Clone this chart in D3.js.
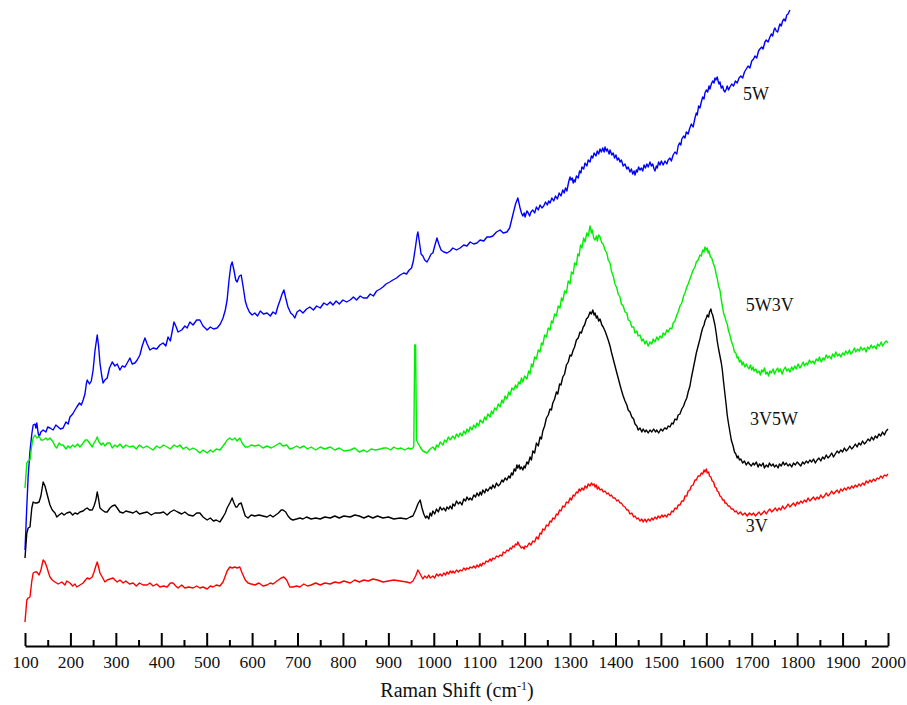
<!DOCTYPE html>
<html>
<head>
<meta charset="utf-8">
<script src="https://cdn.jsdelivr.net/npm/d3@7"></script>
<style>
  html, body { margin: 0; padding: 0; background: #fff; }
  svg { display: block; }
  text { font-family: "Liberation Serif", "Times New Roman", serif; fill: #111; }
</style>
</head>
<body>
<svg id="chart" width="907" height="705"></svg>
<script>
// ---- data (Raman shift in cm-1, intensity in arbitrary units, offset per spectrum) ----
const xTicks = [100,200,300,400,500,600,700,800,900,1000,1100,1200,1300,1400,1500,1600,1700,1800,1900,2000];
const xMinorTicks = [150,250,350,450,550,650,750,850,950,1050,1150,1250,1350,1450,1550,1650,1750,1850,1950];
const seriesNames = ["5W", "5W3V", "3V5W", "3V"];
const seriesColors = ["#0000ff", "#00ee00", "#000000", "#ff0000"];

const spec5W = [
[100,96],[104,140],[107,170],[111,195],[115,212],[118,221],[122,222],[124,218],[126,223],[129,213],[131,209],[135,214],[140,216],[146,214],[150,219],[155,218],[162,216],[168,221],[173,219],[178,217],[184,218],[190,224],[195,222],[199,229],[205,232],[210,236],[214,239],[220,243],[224,241],[228,246],[232,252],[235,262],[237,266],[242,262],[246,265],[250,276],[254,295],[259,311],[262,300],[265,283],[269,270],[272,263],[276,266],[281,268],[286,278],[292,284],[298,280],[303,282],[309,276],[314,280],[320,279],[325,283],[331,288],[336,282],[342,283],[347,286],[353,291],[358,300],[364,308],[369,302],[375,296],[382,298],[390,297],[397,301],[404,303],[410,300],[415,309],[420,305],[428,324],[432,320],[437,314],[445,316],[452,320],[457,318],[463,324],[470,321],[478,326],[485,326],[492,320],[501,316],[508,319],[515,317],[523,318],[530,322],[536,328],[541,336],[545,346],[549,365],[553,380],[556,384],[560,376],[564,366],[567,364],[572,370],[576,371],[580,360],[585,345],[589,339],[594,334],[600,331],[606,333],[612,330],[618,335],[625,332],[633,333],[640,330],[646,334],[652,332],[657,340],[661,345],[666,352],[670,356],[674,348],[679,339],[685,333],[690,331],[694,328],[699,334],[705,336],[712,333],[720,337],[727,339],[735,336],[742,340],[750,338],[758,343],[765,341],[772,344],[778,341],[785,345],[792,342],[800,346],[808,344],[816,346],[823,349],[830,346],[838,350],[845,348],[853,348],[860,352],[867,350],[874,355],[882,357],[888,359],[895,362],[903,364],[910,366],[918,368],[926,371],[934,373],[940,372],[946,376],[951,378],[955,385],[960,400],[963,410],[965,414],[968,405],[972,392],[976,390],[980,386],[985,384],[990,388],[994,392],[998,393],[1002,400],[1007,408],[1011,402],[1016,396],[1022,394],[1029,393],[1036,395],[1042,398],[1050,396],[1058,398],[1066,401],[1073,400],[1080,404],[1088,402],[1095,403],[1102,406],[1110,405],[1117,409],[1124,409],[1130,410],[1138,414],[1146,416],[1153,413],[1161,414],[1167,418],[1174,431],[1180,442],[1185,448],
[1190,438],[1193,433],[1196,430],[1199,433],[1201,429],[1205,435],[1208,433],[1211,430],[1214,434],[1218,436],[1222,433],[1226,439],[1230,436],[1234,441],[1238,438],[1242,440],[1246,444],[1250,441],[1253,445],[1256,443],[1260,448],[1264,445],[1268,450],[1272,447],[1276,453],[1280,450],[1284,456],[1287,453],[1290,458],[1293,455],[1296,462],[1298,466],[1300,469],[1302,466],[1305,468],[1307,463],[1309,466],[1311,464],[1314,470],[1318,468],[1321,475],[1324,473],[1326,479],[1330,477],[1333,483],[1337,480],[1340,486],[1344,484],[1347,490],[1350,488],[1353,493],[1357,490],[1360,495],[1363,492],[1366,497],[1369,494],[1372,498],[1375,494],[1377,499],[1380,495],[1382,497],[1386,492],[1388,496],[1392,491],[1395,493],[1398,488],[1401,491],[1404,486],[1407,488],[1410,484],[1413,486],[1417,480],[1421,482],[1425,477],[1428,479],[1432,474],[1435,477],[1438,472],[1441,475],[1443,471],[1446,476],[1448,474],[1451,479],[1454,476],[1457,478],[1460,475],[1463,481],[1466,478],[1469,482],[1472,479],[1476,484],[1479,480],[1482,482],[1485,477],[1487,475],[1490,480],[1492,478],[1495,484],[1498,481],[1501,485],
[1505,481],[1509,485],[1513,482],[1516,486],[1520,488],[1523,485],[1527,491],[1531,494],[1535,492],[1538,500],[1541,503],[1544,501],[1546,507],[1550,510],[1553,508],[1556,514],[1560,512],[1563,517],[1567,522],[1571,519],[1575,528],[1578,533],[1580,531],[1583,540],[1586,538],[1589,544],[1592,549],[1595,547],[1597,553],[1600,556],[1603,554],[1606,560],[1608,557],[1611,562],[1614,565],[1617,563],[1619,568],[1621,566],[1624,569],[1626,565],[1628,562],[1630,564],[1633,558],[1636,560],[1638,556],[1641,554],[1644,557],[1646,560],[1649,556],[1652,559],[1656,562],[1660,560],[1664,565],[1668,563],[1672,568],[1676,570],[1680,568],[1684,574],[1688,577],[1692,580],[1696,578],[1700,585],[1704,587],[1707,590],[1711,588],[1715,595],[1718,597],[1722,599],[1725,597],[1729,604],[1732,606],[1736,604],[1740,609],[1743,612],[1746,610],[1749,616],[1751,618],[1754,615],[1757,614],[1760,619],[1762,622],[1765,620],[1768,625],[1771,627],[1774,625],[1777,631],[1780,632],[1782,634],[1784,636]
];

const spec5W3V = [
[100,158],[104,183],[107,185],[111,186],[115,201],[118,208],[122,211],[126,208],[131,210],[135,206],[140,206],[146,208],[150,206],[155,208],[162,204],[166,200],[170,198],[175,203],[180,201],[184,201],[190,197],[195,200],[199,198],[205,201],[210,199],[216,202],[221,199],[228,203],[233,206],[237,206],[242,203],[248,199],[252,203],[256,206],[259,209],[263,204],[268,201],[272,203],[276,200],[281,203],[287,203],[292,198],[298,201],[303,199],[309,202],[316,198],[322,201],[330,199],[338,200],[345,197],[352,201],[360,198],[368,200],[375,198],[382,196],[390,200],[397,198],[405,201],[413,199],[420,197],[428,201],[435,199],[441,201],[448,197],[455,199],[462,196],[470,198],[478,196],[485,193],[492,196],[501,193],[508,196],[514,194],[521,197],[529,196],[536,200],[541,203],[545,206],[551,208],[556,206],[562,208],[567,205],[573,208],[578,203],[585,199],[591,199],[598,201],[606,200],[615,201],[624,198],[633,200],[642,198],[650,200],[661,203],[668,200],[676,201],[683,197],[690,198],[698,200],[705,198],[714,200],[722,197],[730,199],[740,196],[750,199],[760,197],[772,199],[782,196],[792,198],[802,195],[816,196],[826,198],[836,194],[846,196],[853,194],[862,197],[872,196],[882,197],[890,198],[897,198],[905,196],[912,199],[920,197],[928,198],[936,196],[944,198],[950,197],[954,198],[956,200],[958,301],[960,301],[962,206],
[965,203],[970,199],[976,195],[985,193],[992,197],[998,199],[1003,196],[1006,201],[1010,199],[1014,204],[1020,201],[1024,206],[1028,204],[1032,209],[1036,206],[1042,210],[1046,207],[1050,212],[1054,209],[1058,213],[1062,210],[1066,215],[1070,212],[1073,217],[1077,214],[1080,219],[1084,216],[1088,221],[1092,218],[1095,223],[1099,220],[1102,226],[1108,223],[1112,229],[1115,226],[1119,232],[1124,229],[1127,235],[1130,232],[1134,238],[1138,236],[1142,242],[1146,239],[1150,246],[1153,243],[1157,250],[1161,247],[1165,254],[1168,251],[1172,258],[1176,256],[1180,261],[1183,258],[1187,264],[1190,262],[1193,268],[1196,264],[1200,270],[1205,267],[1209,275],[1212,272],[1215,282],[1218,279],[1222,289],[1226,287],[1230,296],[1234,294],[1237,303],[1240,301],[1244,311],[1248,309],[1252,318],[1256,316],[1259,325],[1262,323],[1266,332],[1270,330],[1274,340],[1278,338],[1281,348],[1284,345],[1288,355],[1292,353],[1296,365],[1300,362],[1303,374],[1307,372],[1310,383],[1314,381],[1317,392],[1320,390],[1323,401],[1326,398],[1330,408],[1333,404],[1337,413],[1340,410],[1344,420],[1347,413],[1349,416],[1352,408],[1355,406],[1358,410],[1360,405],[1363,411],[1366,409],[1370,403],
[1373,402],[1377,396],[1381,393],[1384,386],[1388,383],[1391,375],[1395,370],[1399,362],[1403,358],[1406,352],[1410,349],[1413,342],[1417,340],[1421,334],[1425,333],[1428,326],[1432,325],[1436,319],[1440,319],[1443,313],[1447,315],[1450,310],[1454,311],[1458,305],[1461,307],[1465,302],[1468,305],[1472,300],[1476,304],[1480,302],[1483,307],[1487,304],[1491,309],[1494,306],[1498,310],[1502,308],[1505,313],[1509,311],[1513,316],[1516,314],[1520,318],[1524,317],[1527,323],[1531,325],[1535,331],[1538,334],[1542,340],[1546,343],[1550,350],[1553,353],[1557,359],[1560,362],[1564,367],[1567,371],[1571,376],[1575,379],[1578,384],[1582,386],[1586,391],[1589,390],[1592,396],[1595,394],[1597,399],[1600,396],[1602,398],[1604,393],[1606,395],[1609,389],[1612,388],[1615,383],[1619,378],[1622,371],[1624,368],[1627,360],[1630,356],[1633,346],[1635,341],[1638,333],[1641,329],[1644,324],[1646,322],[1649,315],[1652,311],[1655,305],[1659,300],[1662,294],[1665,293],[1668,288],[1670,289],[1673,284],
[1676,286],[1679,281],[1681,284],[1685,279],[1688,282],[1690,280],[1694,277],[1697,281],[1700,276],[1703,279],[1705,275],[1709,277],[1712,273],[1716,275],[1719,271],[1722,276],[1725,274],[1728,278],[1731,272],[1734,274],[1737,270],[1740,275],[1743,273],[1747,277],[1750,272],[1753,275],[1757,278],[1760,274],[1763,277],[1767,272],[1770,276],[1774,279],[1777,275],[1781,277],[1784,274],[1788,279],[1791,276],[1795,280],[1798,277],[1802,282],[1806,278],[1809,280],[1813,284],[1816,280],[1820,283],[1823,281],[1827,286],[1831,283],[1835,285],[1838,282],[1842,287],[1846,285],[1849,289],[1853,284],[1857,288],[1860,286],[1864,291],[1867,288],[1871,290],[1875,287],[1878,292],[1882,289],[1885,294],[1889,290],[1893,292],[1896,289],[1900,293],[1904,291],[1907,295],[1911,292],[1915,296],[1918,292],[1922,294],[1926,298],[1929,294],[1933,297],[1937,295],[1940,299],[1944,296],[1948,298],[1952,294],[1955,299],[1959,297],[1963,301],[1966,298],[1970,300],[1974,297],[1977,302],[1981,300],[1985,304],[1988,300],[1992,303],[1996,305],[2000,303]
];

const spec3V5W = [
[100,88],[104,113],[107,118],[111,119],[115,138],[118,144],[122,143],[126,143],[131,144],[135,150],[140,164],[144,160],[148,153],[152,146],[155,141],[160,136],[166,133],[170,129],[175,131],[181,133],[186,131],[192,133],[199,134],[205,131],[210,133],[216,132],[221,134],[228,135],[233,137],[237,138],[242,136],[248,136],[252,140],[256,146],[259,154],[262,147],[265,138],[270,136],[276,134],[281,134],[287,138],[292,140],[298,141],[303,138],[309,134],[316,133],[322,135],[330,134],[338,133],[345,135],[352,132],[360,133],[369,134],[378,131],[386,133],[397,133],[405,134],[413,131],[420,134],[428,136],[436,134],[445,132],[452,134],[460,131],[470,130],[478,133],[485,133],[492,129],[501,126],[508,128],[515,125],[521,126],[529,124],[536,129],[541,133],[545,138],[551,143],[556,148],[560,143],[564,139],[567,139],[571,142],[576,143],[580,137],[585,130],[591,128],[598,131],[606,130],[615,131],[624,130],[633,129],[640,131],[646,129],[652,131],[658,133],[664,136],[668,136],[674,134],[679,130],[685,127],[690,126],[698,127],[705,128],[712,127],[720,129],[730,127],[740,128],[750,127],[760,129],[772,128],[782,130],[792,128],[802,130],[816,129],[826,131],[836,130],[846,128],[856,130],[866,128],[876,130],[888,128],[900,129],[912,127],[926,128],[940,127],[948,129],[954,130],[960,136],[965,142],[970,146],[974,138],
[978,132],[982,128],[985,130],[989,127],[992,133],[995,130],[998,135],[1002,132],[1006,137],[1010,134],[1014,139],[1018,136],[1022,138],[1026,135],[1029,139],[1033,137],[1036,140],[1040,137],[1042,142],[1046,140],[1050,145],[1054,142],[1058,144],[1062,141],[1066,147],[1070,145],[1073,149],[1077,146],[1080,148],[1084,146],[1088,151],[1092,149],[1095,153],[1099,150],[1102,154],[1105,151],[1108,156],[1112,153],[1115,157],[1119,155],[1124,159],[1127,157],[1130,161],[1134,158],[1138,163],[1142,160],[1146,162],[1150,166],[1153,164],[1157,168],[1161,166],[1165,170],[1168,168],[1171,173],[1174,171],[1177,177],[1180,175],[1183,181],[1185,178],[1188,181],[1190,177],[1193,179],[1196,176],[1199,180],[1201,178],[1205,184],[1208,182],[1212,189],[1215,186],[1218,195],[1222,193],[1226,203],[1230,200],[1234,209],[1237,207],[1240,215],[1244,220],[1248,228],[1252,231],[1256,237],[1259,236],[1262,243],[1266,247],[1270,254],[1273,252],[1277,262],[1280,261],[1284,269],[1288,272],[1292,281],[1296,284],[1300,291],[1303,290],[1307,296],[1310,299],[1314,306],[1318,308],[1322,314],[1325,313],[1329,319],[1332,321],[1336,327],[1340,329],[1344,334],[1347,332],[1350,336],[1353,331],[1355,333],[1358,328],[1360,330],[1363,325],[1366,327],[1370,321],[1373,319],[1377,315],[1381,310],[1384,306],[1388,300],[1391,294],[1395,287],[1399,280],[1403,273],[1406,268],[1410,261],[1413,256],[1417,250],[1421,245],[1425,241],[1428,236],[1432,234],[1436,229],[1440,227],[1443,222],[1447,220],[1450,216],[1454,218],[1458,214],[1461,217],[1465,214],[1468,216],[1472,213],[1476,216],[1480,214],[1484,217],[1488,214],[1491,216],[1495,213],[1500,217],[1504,215],[1508,218],[1513,217],[1516,220],[1520,219],[1524,223],[1527,222],[1531,227],[1535,226],[1538,231],[1542,232],[1546,237],[1550,240],[1553,244],[1557,248],[1560,254],[1564,260],[1567,268],[1571,277],[1575,286],[1578,293],[1582,300],[1586,307],[1589,313],[1592,318],[1595,321],[1597,325],[1600,328],[1602,331],[1605,329],[1607,334],[1610,337],[1612,333],[1614,331],[1616,327],[1619,321],[1622,312],[1624,305],[1627,297],[1630,290],[1633,283],[1635,277],[1638,264],[1641,252],[1644,240],[1646,231],[1649,222],[1652,214],[1655,206],[1659,200],[1662,194],[1665,192],[1668,188],[1670,190],[1673,186],[1676,187],
[1680,183],[1684,185],[1688,181],[1692,184],[1695,182],[1699,180],[1703,183],[1706,181],[1710,184],[1714,179],[1717,182],[1721,180],[1725,183],[1728,178],[1732,181],[1736,179],[1739,183],[1743,180],[1747,182],[1750,179],[1754,181],[1758,178],[1761,182],[1765,180],[1769,184],[1772,181],[1776,183],[1780,180],[1784,182],[1788,179],[1792,183],[1796,181],[1800,184],[1804,182],[1808,180],[1812,184],[1816,182],[1820,185],[1824,183],[1828,186],[1832,184],[1836,187],[1840,183],[1844,186],[1848,188],[1852,185],[1856,189],[1860,187],[1864,191],[1868,188],[1872,190],[1876,193],[1880,189],[1884,192],[1888,195],[1892,193],[1896,196],[1900,194],[1904,198],[1908,195],[1912,197],[1916,200],[1920,197],[1924,199],[1928,202],[1932,199],[1936,203],[1940,201],[1944,205],[1948,202],[1952,204],[1956,207],[1960,205],[1964,209],[1968,206],[1972,210],[1976,208],[1980,212],[1984,210],[1988,214],[1992,211],[1996,215],[2000,217]
];

const spec3V = [
[100,24],[104,46],[107,48],[111,49],[115,65],[118,73],[122,74],[126,74],[131,71],[135,76],[140,86],[144,84],[148,79],[152,73],[155,69],[160,66],[166,64],[173,62],[181,64],[188,61],[192,65],[199,63],[205,60],[210,62],[214,59],[221,61],[228,63],[233,66],[237,68],[242,67],[248,69],[252,74],[256,80],[259,84],[262,79],[265,73],[270,69],[276,64],[281,66],[287,67],[294,68],[298,66],[303,64],[309,66],[316,63],[322,65],[330,62],[338,63],[345,60],[352,63],[360,61],[369,61],[375,63],[382,60],[390,62],[397,59],[405,60],[413,59],[420,63],[426,63],[432,60],[437,58],[445,61],[452,58],[460,59],[470,58],[478,60],[485,58],[492,59],[501,57],[508,60],[514,59],[521,61],[529,60],[536,64],[541,70],[545,75],[551,79],[556,78],[562,79],[567,78],[573,79],[578,73],[585,66],[591,63],[598,62],[606,61],[615,63],[624,60],[633,61],[640,63],[646,62],[652,64],[658,66],[664,68],[670,69],[676,66],[683,59],[690,59],[698,60],[705,59],[714,62],[722,60],[730,61],[740,63],[750,61],[760,63],[772,62],[782,64],[792,63],[802,65],[816,63],[826,66],[836,64],[846,66],[856,65],[866,67],[876,66],[888,64],[900,65],[912,66],[926,65],[940,64],[948,63],[954,65],
[960,70],[965,76],[970,72],[976,67],[980,70],[985,68],[989,71],[992,68],[998,70],[1002,68],[1006,72],[1010,70],[1014,72],[1018,70],[1022,73],[1026,71],[1029,74],[1033,72],[1036,75],[1040,73],[1042,75],[1046,73],[1050,76],[1054,74],[1058,76],[1062,75],[1066,78],[1070,76],[1073,78],[1077,77],[1080,79],[1084,78],[1088,80],[1092,78],[1095,81],[1099,79],[1102,82],[1105,80],[1108,83],[1112,82],[1115,85],[1119,84],[1124,87],[1127,85],[1130,88],[1134,87],[1138,90],[1142,89],[1146,91],[1150,90],[1153,94],[1157,93],[1161,96],[1165,95],[1168,98],[1171,97],[1174,100],[1177,99],[1180,102],[1183,101],[1185,104],[1188,101],
[1190,100],[1193,98],[1196,99],[1199,97],[1201,100],[1205,99],[1210,103],[1214,101],[1218,105],[1222,104],[1226,109],[1230,107],[1234,113],[1237,112],[1240,117],[1244,116],[1248,121],[1252,120],[1256,125],[1259,124],[1262,128],[1266,127],[1270,132],[1273,131],[1277,136],[1280,135],[1284,140],[1288,139],[1292,144],[1296,143],[1300,148],[1303,146],[1307,151],[1310,150],[1314,154],[1317,153],[1320,157],[1323,155],[1326,158],[1330,156],[1333,160],[1337,158],[1340,162],[1344,160],[1347,163],[1350,161],[1353,162],[1355,159],[1358,161],[1360,157],[1363,159],[1366,156],[1370,157],[1373,154],[1377,155],[1381,152],[1384,153],[1388,150],[1391,151],[1395,148],[1399,148],[1403,145],[1406,146],[1410,143],[1413,143],[1417,140],[1421,139],[1425,136],[1428,136],[1432,132],[1436,133],[1440,129],[1443,130],[1447,127],[1450,128],[1454,125],[1458,127],[1461,124],[1465,127],[1468,124],[1472,127],[1476,125],[1480,128],[1483,126],[1487,129],[1491,127],[1494,130],[1498,128],[1502,131],[1505,129],[1509,131],[1513,129],[1516,132],[1520,131],[1524,135],[1527,134],[1531,138],[1535,137],[1538,141],[1542,141],[1546,145],[1550,145],[1553,150],[1557,150],[1560,155],[1564,156],[1567,160],[1571,161],[1575,166],[1578,166],[1582,170],[1586,170],[1589,173],[1592,172],[1595,176],[1597,174],[1600,177],[1602,173],[1605,174],[1607,170],[1610,169],[1613,165],[1616,164],[1619,159],[1622,158],[1624,155],[1627,154],[1630,150],[1633,149],[1636,146],[1639,146],[1641,143],[1644,143],[1648,140],[1651,140],[1655,137],[1659,137],[1663,134],[1666,135],[1670,132],[1675,134],[1680,131],[1685,133],[1690,130],[1695,133],
[1700,131],[1704,133],[1708,130],[1712,132],[1716,134],[1720,131],[1724,133],[1728,135],[1732,132],[1736,135],[1740,137],[1744,134],[1748,136],[1752,138],[1756,135],[1760,138],[1764,136],[1768,140],[1772,137],[1776,139],[1780,142],[1784,139],[1788,141],[1792,143],[1796,140],[1800,144],[1804,142],[1808,145],[1812,143],[1816,146],[1820,144],[1824,148],[1828,145],[1832,147],[1836,149],[1840,146],[1844,149],[1848,147],[1852,151],[1856,148],[1860,150],[1864,153],[1868,150],[1872,152],[1876,155],[1880,152],[1884,154],[1888,156],[1892,153],[1896,157],[1900,155],[1904,158],[1908,156],[1912,159],[1916,157],[1920,160],[1924,158],[1928,161],[1932,159],[1936,162],[1940,160],[1944,163],[1948,161],[1952,165],[1956,163],[1960,166],[1964,164],[1968,167],[1972,165],[1976,168],[1980,167],[1984,170],[1988,168],[1992,171],[1996,170],[2000,172]
];

// label anchor positions in data units (x in cm-1, y in intensity units)
const labelX = [1681, 1687, 1696, 1687];
const labelY = [546, 335, 221, 114];

const allSeries = [spec5W, spec5W3V, spec3V5W, spec3V];

// ---- drawing ----
const svg = d3.select("#chart");
const axisY = 646;
const x = d3.scaleLinear().domain([100, 2000]).range([25, 888]);
const y = d3.scaleLinear().domain([0, 646]).range([axisY, 0]);

const line = d3.line().x(d => x(d[0])).y(d => y(d[1]));

allSeries.forEach((s, i) => {
  svg.append("path")
    .datum(s)
    .attr("d", line)
    .attr("fill", "none")
    .attr("stroke", seriesColors[i])
    .attr("stroke-width", 1.4)
    .attr("stroke-linejoin", "round");
});

seriesNames.forEach((n, i) => {
  svg.append("text")
    .attr("x", x(labelX[i]))
    .attr("y", y(labelY[i]))
    .attr("font-size", 18)
    .text(n);
});

// minor ticks
const minorAxis = d3.axisBottom(x).tickValues(xMinorTicks).tickSize(-6).tickFormat("");
const gMinor = svg.append("g").attr("transform", `translate(0,${axisY})`).call(minorAxis);
gMinor.select(".domain").remove();
gMinor.selectAll(".tick line").attr("stroke", "#000").attr("stroke-width", 2);

// major axis
const majorAxis = d3.axisBottom(x).tickValues(xTicks).tickSizeInner(-13).tickSizeOuter(0)
  .tickPadding(10).tickFormat(d3.format("d"));
const gMajor = svg.append("g").attr("transform", `translate(0,${axisY})`).call(majorAxis);
gMajor.attr("font-family", "'Liberation Serif', 'Times New Roman', serif");
gMajor.select(".domain").attr("stroke", "#000").attr("stroke-width", 2);
gMajor.selectAll(".tick line").attr("stroke", "#000").attr("stroke-width", 2);
gMajor.selectAll(".tick text")
  .attr("font-size", 17.5)
  .attr("fill", "#111");

// axis title
const title = svg.append("text")
  .attr("x", 457)
  .attr("y", 697)
  .attr("text-anchor", "middle")
  .attr("font-size", 20);
title.append("tspan").text("Raman Shift (cm");
title.append("tspan").attr("dy", -7).attr("font-size", 12).text("-1");
title.append("tspan").attr("dy", 7).text(")");
</script>
</body>
</html>
